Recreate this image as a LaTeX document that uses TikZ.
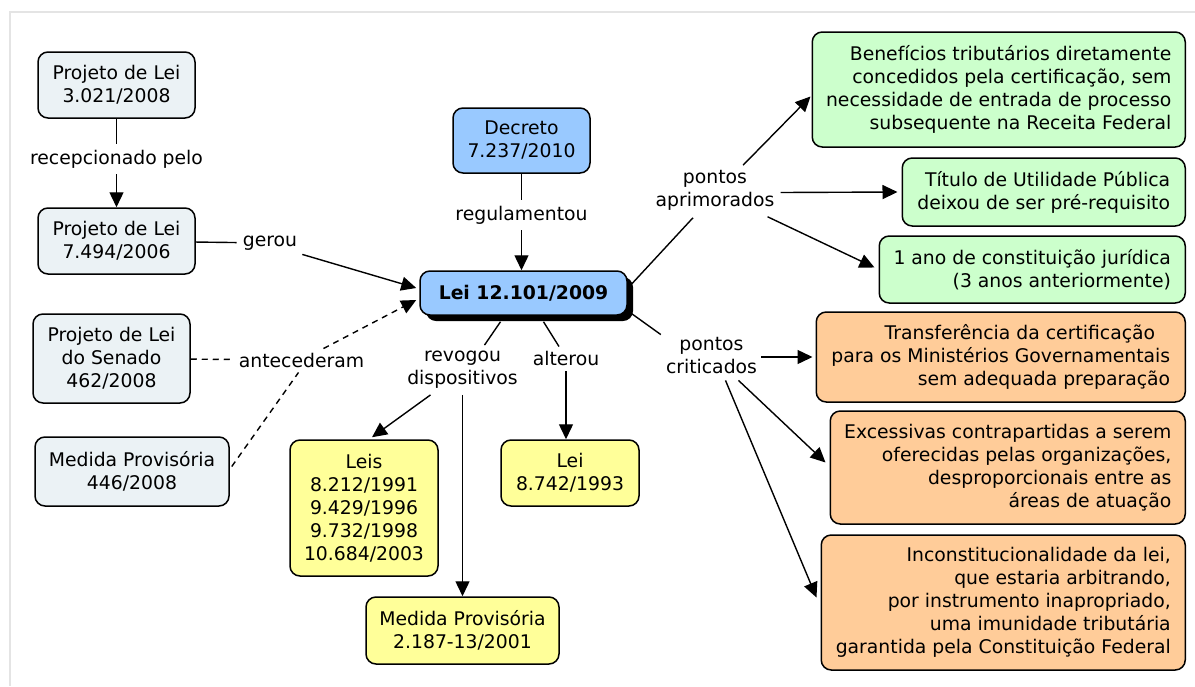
\documentclass[tikz,border=0pt]{standalone}
\usepackage{fontspec}
\setmainfont{DejaVu Sans}
\usetikzlibrary{arrows.meta,calc,shadows}
\definecolor{cgray}{HTML}{EBF2F5}
\definecolor{cblue}{HTML}{99C9FF}
\definecolor{cyellow}{HTML}{FFFF99}
\definecolor{cgreen}{HTML}{CCFFCC}
\definecolor{corange}{HTML}{FFCC99}
\definecolor{cframe}{HTML}{E4E4E4}
\begin{document}
\begin{tikzpicture}[x=1pt,y=-1pt,
  every node/.style={font=\fontsize{18.8}{23}\selectfont},
  box/.style={draw=black, line width=1.5pt, rounded corners=10pt, inner sep=0pt, align=center},
  graybox/.style={box, fill=cgray},
  bluebox/.style={box, fill=cblue},
  yellowbox/.style={box, fill=cyellow},
  greenbox/.style={box, fill=cgreen, align=right, anchor=east},
  orangebox/.style={box, fill=corange, align=right, anchor=east},
  lbl/.style={inner sep=6pt, align=center},
  link/.style={line width=1.4pt},
  tip/.style={-{Triangle[length=15pt,width=14pt]}},
  arr/.style={link, tip},
  dashline/.style={line width=1.4pt, dash pattern=on 6pt off 5pt}]
\useasboundingbox (0,0) rectangle (1195,686);
\draw[cframe, line width=2.5pt] (10,686) -- (10,12) -- (1195,12);

% left column
\node[graybox, minimum width=157pt, minimum height=66pt] (p1) at (116.5,85) {Projeto de Lei\\3.021/2008};
\node[graybox, minimum width=157pt, minimum height=66pt] (p2) at (116.5,241) {Projeto de Lei\\7.494/2006};
\node[graybox, minimum width=157pt, minimum height=89pt] (p3) at (111.5,358.5) {Projeto de Lei\\do Senado\\462/2008};
\node[graybox, minimum width=194pt, minimum height=69pt] (p4) at (132,471.5) {Medida Provisória\\446/2008};

% centre
\node[bluebox, minimum width=137pt, minimum height=65pt] (dec) at (521.5,140.5) {Decreto\\7.237/2010};
\node[bluebox, minimum width=207pt, minimum height=44pt, font=\fontsize{18.8}{23}\selectfont\bfseries,
  drop shadow={shadow xshift=6pt, shadow yshift=-6pt, opacity=1, fill=black}] (lei) at (523.5,293) {Lei 12.101/2009};
\node[yellowbox, minimum width=148pt, minimum height=136pt] (leis) at (364,508) {Leis\\8.212/1991\\9.429/1996\\9.732/1998\\10.684/2003};
\node[yellowbox, minimum width=138pt, minimum height=66pt] (l8742) at (570,473) {Lei\\8.742/1993};
\node[yellowbox, minimum width=193pt, minimum height=67pt] (mp) at (462.5,630.5) {Medida Provisória\\2.187-13/2001};

% right column
\node[greenbox, minimum width=373pt, minimum height=115pt] (g1) at (1186,89.5) {Benefícios tributários diretamente\\concedidos pela certificação, sem\\necessidade de entrada de processo\\subsequente na Receita Federal};
\node[greenbox, minimum width=283pt, minimum height=68pt] (g2) at (1186,192) {Título de Utilidade Pública\\deixou de ser pré-requisito};
\node[greenbox, minimum width=306pt, minimum height=67pt] (g3) at (1186,269.5) {1 ano de constituição jurídica\\(3 anos anteriormente)};
\node[orangebox, minimum width=369pt, minimum height=90pt] (o1) at (1186,357) {Transferência da certificação\hspace*{15pt}\\para os Ministérios Governamentais\\sem adequada preparação};
\node[orangebox, minimum width=355pt, minimum height=113pt] (o2) at (1186,467.5) {Excessivas contrapartidas a serem\\oferecidas pelas organizações,\\desproporcionais entre as\\áreas de atuação};
\node[orangebox, minimum width=364pt, minimum height=135pt] (o3) at (1186,602.5) {Inconstitucionalidade da lei,\\que estaria arbitrando,\\por instrumento inapropriado,\\uma imunidade tributária\\garantida pela Constituição Federal};

% linking phrases
\node[lbl] (rec) at (116.5,159) {recepcionado pelo};
\node[lbl] (gerou) at (270,243) {gerou};
\node[lbl] (ant) at (301.5,360) {antecederam};
\node[lbl] (reg) at (521.5,215) {regulamentou};
\node[lbl] (rev) at (462.5,370) {revogou\\dispositivos};
\node[lbl] (alt) at (566,358) {alterou};
\node[lbl] (apr) at (715,190.5) {pontos\\aprimorados};
\node[lbl] (cri) at (711.5,356) {pontos\\criticados};

% connectors
\draw[link] (p1) -- (rec);
\draw[arr] (rec) -- (p2);
\draw[link] (p2) -- (gerou);
\draw[arr] ($(gerou.south east)+(-1,-2)$) -- ($(lei.west)+(-3,-5)$);
\draw[dashline] (p3) -- (ant);
\draw[dashline] ($(p4.east)+(2,-5)$) -- ($(ant.south)+(-3,-1)$);
\draw[dashline, tip] ($(ant.north)+(22,2)$) -- ($(lei.west)+(-3,7)$);
\draw[link] (dec) -- (reg);
\draw[arr] (reg) -- (reg |- lei.north);
\draw[link] ($(lei.south)+(-23,6)$) -- ($(rev.north)+(22,0)$);
\draw[arr] ($(rev.south)+(-32,0)$) -- ($(leis.north)+(8,-2)$);
\draw[arr] (rev.south) -- (rev.south |- mp.north);
\draw[link] ($(lei.south)+(20,6)$) -- ($(alt.north)+(-7,2)$);
\draw[arr] (alt.south) -- (alt.south |- l8742.north);
\draw[link] ($(lei.east)+(3,-8)$) -- ($(apr.south)+(-22,1)$);
\draw[arr] ($(apr.north)+(28,1)$) -- ($(g1.west)+(-1,7)$);
\draw[arr] ($(apr.east)+(0,2)$) -- ($(g2.west)+(-4,0)$);
\draw[arr] ($(apr.south east)+(-13,0)$) -- ($(g3.west)+(-4,-2)$);
\draw[link] ($(lei.east)+(3,20)$) -- ($(cri.north west)+(1,3)$);
\draw[arr] ($(cri.east)+(-2,1)$) -- ($(o1.west)+(-3,0)$);
\draw[arr] ($(cri.south)+(27,0)$) -- ($(o2.west)+(-4,-5)$);
\draw[arr] ($(cri.south)+(14,0)$) -- ($(o3.west)+(-4,-5)$);
\end{tikzpicture}
\end{document}
